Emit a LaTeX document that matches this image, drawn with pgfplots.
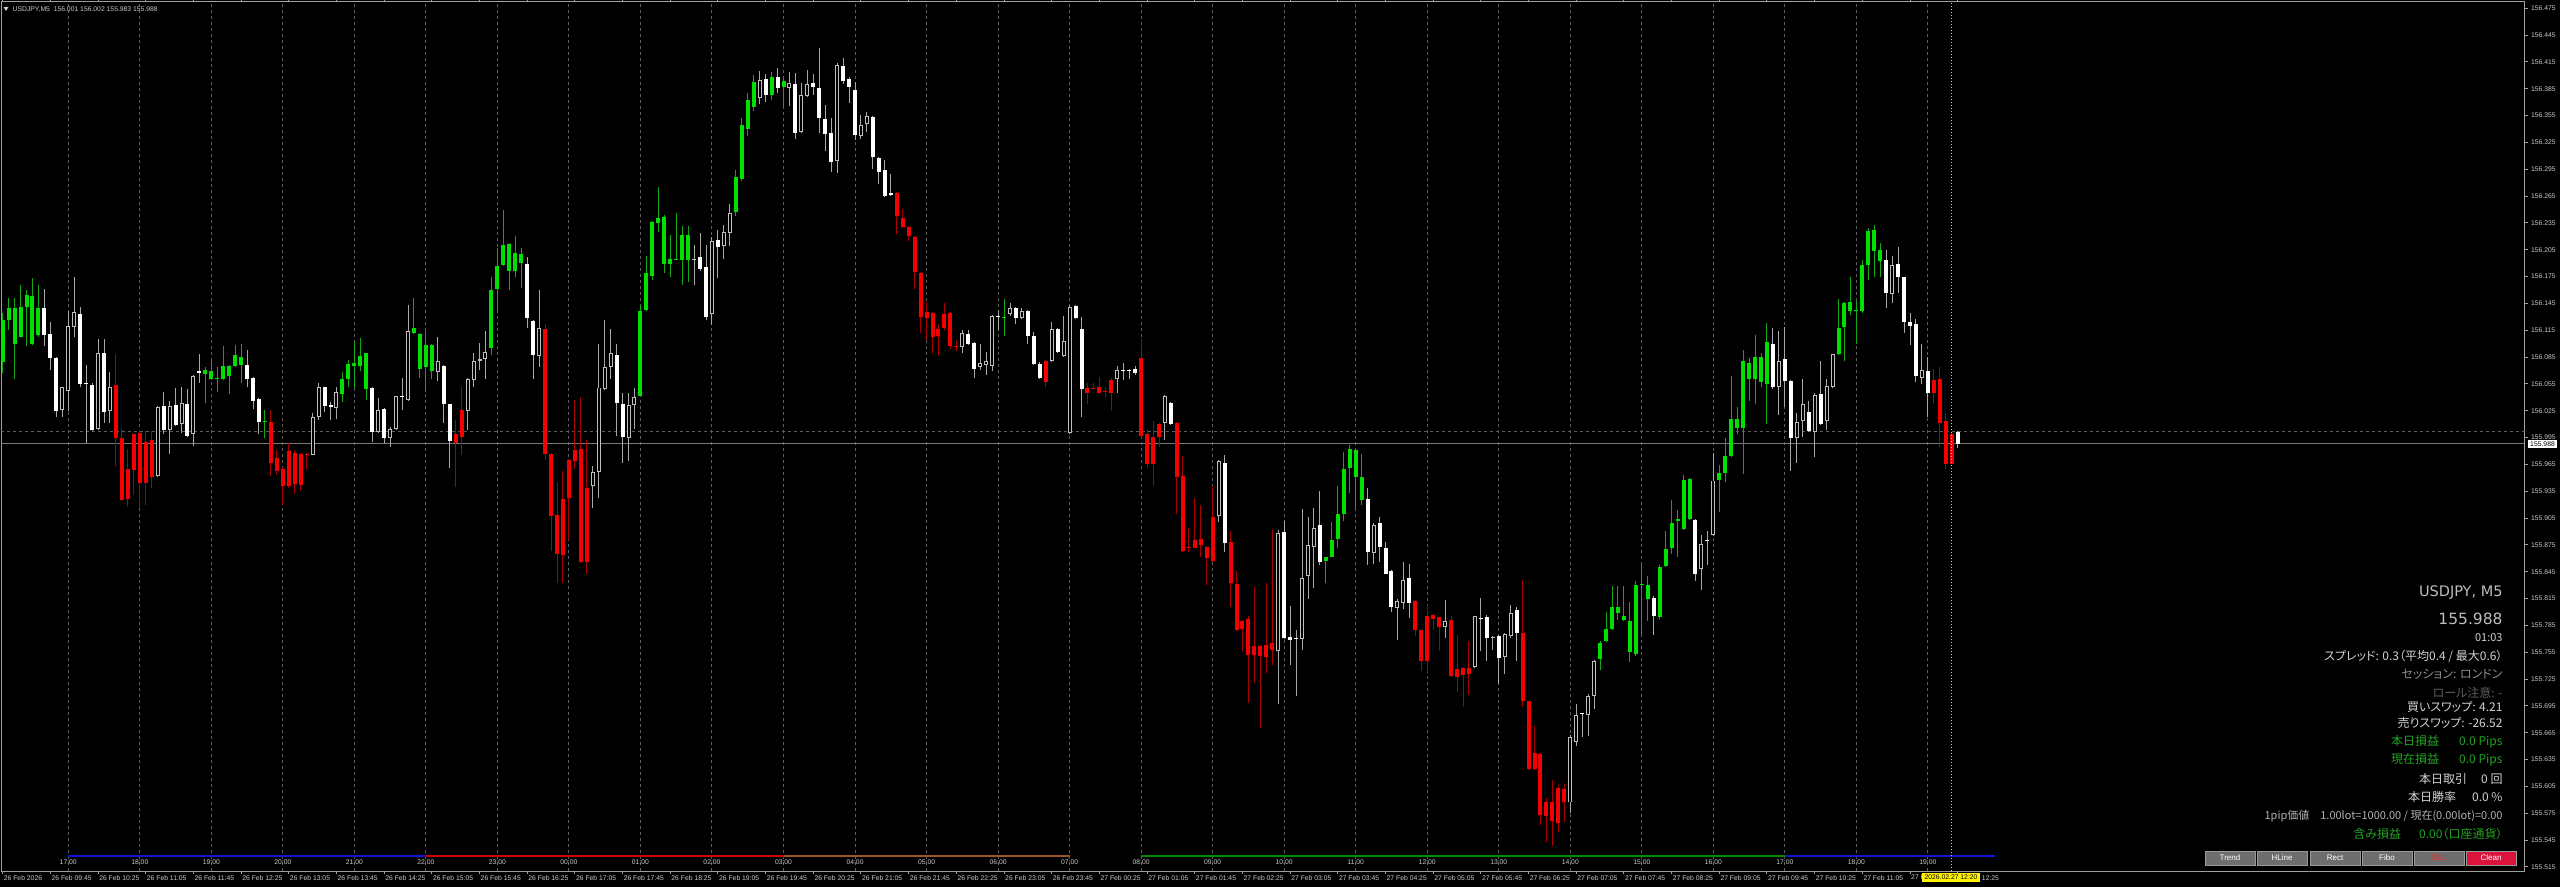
\documentclass[border=0pt]{standalone}
\usepackage{pgfplots}
\usepackage{pgfplotstable}
\pgfplotsset{compat=1.18}
\usepackage{fontspec}
\setmainfont{Liberation Sans}
\newfontfamily\jp[RawFeature=+palt]{Noto Sans CJK JP}
\newfontfamily\dv{DejaVu Sans}

\definecolor{gridc}{HTML}{5C5C5C}
\definecolor{axisc}{HTML}{A0A0A0}
\definecolor{tickc}{HTML}{CACACA}
\definecolor{bullg}{HTML}{00E000}
\definecolor{wickg}{HTML}{14A814}
\definecolor{bearr}{HTML}{F40000}
\definecolor{wickr}{HTML}{A80000}
\definecolor{wickw}{HTML}{A8A8A8}
\definecolor{hollow}{HTML}{BEBEBE}
\definecolor{priceln}{HTML}{7A7A7A}
\definecolor{bandblue}{HTML}{1414D2}
\definecolor{bandred}{HTML}{C80000}
\definecolor{bandbrown}{HTML}{A0522D}
\definecolor{bandgreen}{HTML}{008C00}
\definecolor{btn}{HTML}{6E6E6E}
\definecolor{btnedge}{HTML}{9A9A9A}
\definecolor{crimson}{HTML}{DC143C}
\definecolor{delred}{HTML}{FF2A2A}
\definecolor{pgreen}{HTML}{22A322}
\definecolor{tlight}{HTML}{D2D2D2}
\definecolor{tbig}{HTML}{BDBDBD}
\definecolor{tmid}{HTML}{8E8E8E}
\definecolor{tdim}{HTML}{5E5E5E}

\newcommand\tf{\fontsize{6.8}{7}\selectfont}
\newcommand\pf{\jp\fontsize{12}{14}\selectfont}

% USDJPY M5, one row per bar: open high low close, k = colour class
% k: 1 green, 2 red, 3 white up (hollow), 4 white down (filled)
\pgfplotstableread{
o h l c k
156.080 156.134 156.067 156.126 1
156.126 156.151 156.115 156.140 1
156.100 156.151 156.061 156.140 1
156.108 156.166 156.107 156.141 1
156.141 156.160 156.097 156.154 1
156.100 156.173 156.099 156.153 1
156.110 156.166 156.108 156.140 1
156.140 156.161 156.097 156.110 4
156.111 156.124 156.071 156.084 4
156.084 156.085 156.018 156.025 4
156.026 156.052 156.018 156.051 3
156.047 156.136 156.025 156.120 3
156.119 156.175 156.108 156.135 3
156.133 156.141 156.052 156.055 4
156.055 156.076 155.989 156.054 4
156.054 156.056 156.002 156.003 4
156.005 156.105 156.004 156.090 3
156.090 156.105 156.011 156.024 4
156.025 156.068 156.011 156.052 3
156.054 156.088 155.963 155.995 2
155.994 156.006 155.924 155.925 2
155.960 155.982 155.917 155.926 2
155.999 156.000 155.931 155.959 2
156.000 156.003 155.916 155.944 2
155.990 156.002 155.920 155.944 2
155.992 156.002 155.939 155.951 2
155.952 156.030 155.951 156.029 3
156.030 156.046 155.999 156.004 4
156.004 156.036 155.977 156.030 3
156.031 156.050 156.008 156.009 4
156.010 156.051 156.000 156.034 3
156.032 156.049 155.996 155.997 4
155.999 156.065 155.986 156.064 3
156.069 156.089 156.056 156.067 4
156.066 156.074 156.034 156.070 1
156.061 156.082 156.059 156.069 1
156.060 156.074 156.046 156.061 1
156.060 156.097 156.059 156.075 1
156.064 156.076 156.044 156.075 1
156.075 156.098 156.074 156.087 1
156.076 156.100 156.056 156.085 1
156.076 156.093 156.051 156.060 4
156.062 156.063 156.027 156.036 4
156.038 156.039 155.999 156.012 4
156.012 156.026 155.994 156.013 1
156.012 156.026 155.952 155.967 2
155.972 155.981 155.953 155.958 2
155.960 155.962 155.920 155.941 2
155.980 155.989 155.939 155.941 2
155.978 155.981 155.932 155.943 2
155.977 155.978 155.935 155.942 2
155.977 155.978 155.960 155.976 2
155.976 156.022 155.975 156.018 3
156.018 156.056 156.015 156.051 3
156.051 156.052 156.024 156.030 4
156.031 156.035 156.015 156.029 4
156.028 156.051 156.016 156.046 3
156.044 156.068 156.035 156.061 1
156.061 156.082 156.051 156.077 1
156.075 156.102 156.050 156.078 1
156.075 156.106 156.069 156.086 1
156.049 156.090 156.037 156.089 1
156.050 156.051 155.990 156.001 4
156.001 156.039 156.000 156.026 3
156.027 156.028 155.989 155.995 4
155.995 156.007 155.984 156.005 3
156.005 156.042 156.004 156.041 3
156.040 156.062 156.026 156.039 4
156.037 156.143 156.036 156.114 3
156.112 156.151 156.111 156.117 1
156.072 156.112 156.062 156.111 1
156.074 156.114 156.046 156.099 1
156.069 156.100 156.061 156.098 1
156.068 156.107 156.058 156.081 3
156.075 156.076 156.011 156.032 4
156.032 156.033 155.961 155.991 4
155.999 156.015 155.940 155.989 2
156.026 156.052 155.976 155.996 2
156.025 156.062 156.004 156.061 3
156.059 156.090 156.051 156.081 3
156.081 156.101 156.070 156.083 3
156.083 156.114 156.060 156.091 3
156.095 156.175 156.087 156.160 1
156.161 156.207 156.136 156.187 1
156.188 156.250 156.187 156.210 1
156.181 156.212 156.160 156.211 1
156.181 156.220 156.174 156.201 1
156.190 156.207 156.162 156.200 1
156.189 156.197 156.117 156.129 4
156.125 156.126 156.061 156.087 4
156.086 156.160 156.074 156.117 3
156.116 156.122 155.970 155.977 2
155.977 155.978 155.868 155.907 2
155.908 155.945 155.832 155.865 2
155.926 155.958 155.832 155.864 2
155.970 155.971 155.881 155.927 2
155.981 156.037 155.960 155.969 2
155.982 156.040 155.855 155.856 2
155.939 155.992 155.843 155.856 2
155.941 155.963 155.916 155.957 3
155.956 156.100 155.927 156.051 3
156.049 156.126 156.048 156.074 3
156.074 156.116 156.060 156.089 3
156.087 156.100 155.997 156.034 4
156.033 156.045 155.967 155.996 4
155.995 156.045 155.969 156.031 3
156.031 156.050 156.005 156.040 3
156.042 156.143 156.041 156.137 1
156.138 156.198 156.137 156.179 1
156.176 156.237 156.171 156.236 1
156.235 156.275 156.225 156.240 1
156.189 156.244 156.179 156.242 1
156.189 156.222 156.175 156.195 1
156.194 156.246 156.193 156.195 1
156.194 156.231 156.166 156.222 1
156.194 156.231 156.169 156.221 1
156.193 156.210 156.166 156.195 3
156.197 156.224 156.181 156.184 4
156.186 156.210 156.126 156.130 4
156.133 156.219 156.121 156.215 3
156.216 156.227 156.173 156.208 4
156.209 156.233 156.195 156.225 3
156.224 156.256 156.209 156.246 3
156.247 156.294 156.243 156.286 1
156.284 156.352 156.282 156.345 1
156.340 156.380 156.332 156.372 1
156.365 156.400 156.360 156.392 1
156.375 156.405 156.368 156.395 3
156.396 156.402 156.370 156.378 4
156.378 156.404 156.372 156.398 1
156.398 156.408 156.380 156.386 4
156.387 156.399 156.365 156.394 1
156.386 156.404 156.366 156.391 3
156.390 156.403 156.329 156.335 4
156.337 156.391 156.336 156.378 3
156.377 156.406 156.376 156.390 3
156.391 156.402 156.378 156.387 4
156.386 156.431 156.335 156.352 4
156.351 156.367 156.315 156.334 4
156.335 156.352 156.292 156.303 4
156.304 156.414 156.291 156.411 3
156.410 156.419 156.390 156.394 4
156.396 156.398 156.369 156.387 4
156.384 156.392 156.328 156.333 4
156.332 156.356 156.329 156.345 3
156.346 156.359 156.337 156.355 3
156.353 156.354 156.295 156.309 4
156.308 156.309 156.279 156.292 4
156.294 156.305 156.264 156.265 4
156.268 156.290 156.265 156.266 4
156.269 156.270 156.223 156.243 2
156.241 156.251 156.229 156.230 2
156.230 156.231 156.215 156.220 2
156.219 156.220 156.161 156.180 2
156.179 156.180 156.112 156.130 2
156.135 156.147 156.104 156.129 2
156.134 156.135 156.090 156.107 2
156.116 156.122 156.086 156.109 2
156.133 156.146 156.115 156.118 2
156.134 156.135 156.094 156.097 2
156.097 156.104 156.092 156.096 2
156.096 156.115 156.089 156.112 3
156.111 156.115 156.099 156.100 4
156.101 156.102 156.062 156.072 4
156.074 156.100 156.071 156.078 3
156.076 156.091 156.065 156.081 3
156.075 156.132 156.069 156.131 3
156.130 156.138 156.115 156.129 4
156.129 156.150 156.109 156.130 1
156.133 156.146 156.131 156.140 3
156.140 156.141 156.122 156.129 4
156.129 156.140 156.128 156.136 3
156.137 156.138 156.100 156.109 4
156.109 156.113 156.076 156.077 4
156.077 156.080 156.061 156.062 4
156.081 156.082 156.052 156.057 2
156.081 156.124 156.080 156.116 3
156.116 156.117 156.089 156.091 4
156.086 156.131 156.085 156.103 3
156.000 156.143 155.999 156.141 3
156.142 156.143 156.128 156.129 4
156.116 156.130 156.018 156.049 4
156.050 156.056 156.032 156.045 2
156.050 156.056 156.049 156.049 2
156.051 156.063 156.044 156.045 2
156.047 156.052 156.040 156.046 2
156.059 156.062 156.025 156.045 2
156.060 156.075 156.045 156.071 3
156.071 156.078 156.059 156.070 4
156.071 156.072 156.061 156.070 4
156.072 156.075 156.065 156.067 4
156.084 156.105 155.996 155.997 2
155.999 156.004 155.961 155.966 2
155.996 156.013 155.941 155.966 2
156.010 156.011 155.985 155.996 2
156.011 156.043 155.992 156.042 3
156.034 156.035 156.009 156.010 4
156.011 156.012 155.910 155.951 2
155.952 155.974 155.867 155.868 2
155.872 155.894 155.867 155.871 2
155.880 155.927 155.871 155.872 2
155.882 155.920 155.862 155.875 2
155.873 155.874 155.830 155.860 2
155.906 155.941 155.856 155.857 2
155.907 155.970 155.901 155.969 3
155.967 155.976 155.867 155.877 4
155.878 155.891 155.806 155.832 2
155.831 155.846 155.779 155.780 2
155.790 155.791 155.756 155.781 2
155.792 155.796 155.698 155.752 2
155.762 155.828 155.721 155.752 2
155.762 155.763 155.670 155.751 2
155.763 155.832 155.732 155.750 2
155.765 155.892 155.741 155.757 2
155.756 155.892 155.697 155.888 3
155.890 155.902 155.770 155.771 4
155.772 155.807 155.741 155.769 4
155.771 155.780 155.706 155.770 4
155.770 155.915 155.758 155.838 3
155.840 155.906 155.815 155.875 3
155.873 155.916 155.827 155.894 3
155.897 155.935 155.852 155.856 4
155.857 155.861 155.832 155.861 1
155.862 155.901 155.861 155.881 1
155.882 155.941 155.872 155.910 1
155.910 155.979 155.902 155.960 1
155.961 155.987 155.933 155.982 1
155.951 155.982 155.916 155.981 1
155.925 155.977 155.920 155.951 1
155.926 155.939 155.853 155.867 4
155.866 155.900 155.854 155.897 3
155.899 155.906 155.856 155.873 4
155.871 155.878 155.842 155.843 4
155.846 155.847 155.800 155.806 4
155.805 155.814 155.769 155.812 3
155.810 155.856 155.803 155.836 3
155.838 155.854 155.793 155.810 4
155.812 155.813 155.773 155.780 2
155.780 155.781 155.734 155.745 2
155.796 155.808 155.731 155.745 2
155.797 155.798 155.780 155.792 2
155.794 155.794 155.756 155.783 2
155.783 155.813 155.771 155.790 3
155.791 155.796 155.727 155.728 2
155.736 155.774 155.710 155.727 2
155.737 155.738 155.694 155.730 2
155.737 155.768 155.707 155.731 2
155.738 155.796 155.737 155.795 3
155.793 155.816 155.756 155.792 4
155.794 155.797 155.745 155.771 4
155.771 155.773 155.758 155.772 3
155.773 155.774 155.720 155.748 4
155.750 155.777 155.731 155.775 3
155.773 155.808 155.771 155.799 3
155.802 155.806 155.745 155.777 4
155.776 155.836 155.694 155.701 2
155.700 155.701 155.623 155.625 2
155.642 155.672 155.623 155.624 2
155.641 155.642 155.562 155.573 2
155.588 155.592 155.543 155.572 2
155.588 155.612 155.538 155.566 2
155.603 155.607 155.554 155.564 2
155.602 155.608 155.565 155.588 2
155.587 155.662 155.575 155.660 3
155.655 155.697 155.650 155.685 3
155.686 155.686 155.660 155.685 4
155.685 155.708 155.661 155.706 3
155.706 155.746 155.692 155.745 3
155.747 155.768 155.735 155.765 1
155.767 155.800 155.766 155.781 1
155.781 155.829 155.780 155.806 1
155.799 155.829 155.791 155.806 1
155.791 155.829 155.790 155.795 1
155.755 155.811 155.744 155.790 1
155.753 155.835 155.751 155.830 1
155.830 155.855 155.775 155.831 1
155.815 155.840 155.790 155.830 1
155.816 155.818 155.774 155.795 4
155.794 155.852 155.792 155.850 1
155.851 155.890 155.850 155.870 1
155.871 155.925 155.865 155.900 1
155.902 155.914 155.862 155.904 1
155.893 155.953 155.892 155.948 1
155.904 155.950 155.903 155.949 1
155.903 155.904 155.835 155.842 4
155.848 155.886 155.825 155.876 3
155.880 155.890 155.852 155.879 4
155.886 155.978 155.885 155.947 3
155.948 155.964 155.912 155.955 1
155.955 155.994 155.945 155.974 1
155.974 156.064 155.973 156.016 1
156.006 156.029 155.999 156.016 1
156.006 156.093 155.954 156.081 1
156.061 156.084 156.036 156.078 1
156.061 156.110 156.033 156.085 1
156.057 156.090 156.052 156.085 1
156.055 156.123 156.010 156.102 1
156.100 156.117 156.049 156.051 4
156.052 156.114 156.020 156.081 3
156.083 156.119 156.029 156.058 4
156.058 156.059 155.958 155.994 4
155.994 156.023 155.967 156.012 3
156.013 156.060 155.996 156.033 3
156.024 156.036 156.001 156.002 4
156.001 156.045 155.973 156.043 3
156.044 156.081 156.009 156.010 4
156.013 156.061 156.004 156.053 3
156.052 156.089 156.050 156.088 3
156.088 156.150 156.087 156.118 1
156.119 156.147 156.081 156.146 1
156.137 156.174 156.132 156.147 1
156.137 156.148 156.100 156.138 1
156.137 156.193 156.134 156.188 1
156.188 156.229 156.171 156.226 1
156.204 156.233 156.174 156.227 1
156.192 156.213 156.174 156.205 1
156.193 156.205 156.140 156.157 4
156.155 156.198 156.145 156.188 3
156.189 156.208 156.157 156.174 4
156.174 156.175 156.112 156.124 4
156.124 156.134 156.099 156.120 4
156.122 156.128 156.057 156.064 4
156.062 156.100 156.055 156.070 3
156.069 156.085 156.018 156.045 4
156.059 156.072 156.033 156.045 2
156.060 156.074 155.984 156.011 2
156.014 156.023 155.960 155.966 2
155.999 156.001 155.965 155.966 2
156.001 156.002 155.983 155.988 4
}\candles

\begin{document}
\begin{tikzpicture}[x=1pt,y=1pt]
\fill[black] (0,0) rectangle (2560,887);
\begin{axis}[
  at={(1.5pt,16pt)}, anchor=south west,
  scale only axis, width=2523pt, height=869pt,
  xmin=-0.2, xmax=423.1, ymin=155.5104, ymax=156.482,
  axis line style={draw=axisc, line width=1pt},
  tick align=outside, major tick length=3pt,
  xtick={11,23,...,323},
  xticklabels={17:00,18:00,19:00,20:00,21:00,22:00,23:00,00:00,01:00,02:00,03:00,04:00,05:00,06:00,07:00,08:00,09:00,10:00,11:00,12:00,13:00,14:00,15:00,16:00,17:00,18:00,19:00},
  xtick style={draw=none},
  xticklabel style={anchor=base, yshift=9.5pt, font=\tf, text=tickc},
  xmajorgrids,
  major x grid style={gridc, line width=1pt, dash pattern=on 3pt off 3pt},
  extra x ticks={0,8,...,328},
  extra x tick labels={26 Feb 2026,26 Feb 09:45,26 Feb 10:25,26 Feb 11:05,26 Feb 11:45,26 Feb 12:25,26 Feb 13:05,26 Feb 13:45,26 Feb 14:25,26 Feb 15:05,26 Feb 15:45,26 Feb 16:25,26 Feb 17:05,26 Feb 17:45,26 Feb 18:25,26 Feb 19:05,26 Feb 19:45,26 Feb 20:25,26 Feb 21:05,26 Feb 21:45,26 Feb 22:25,26 Feb 23:05,26 Feb 23:45,27 Feb 00:25,27 Feb 01:05,27 Feb 01:45,27 Feb 02:25,27 Feb 03:05,27 Feb 03:45,27 Feb 04:25,27 Feb 05:05,27 Feb 05:45,27 Feb 06:25,27 Feb 07:05,27 Feb 07:45,27 Feb 08:25,27 Feb 09:05,27 Feb 09:45,27 Feb 10:25,27 Feb 11:05,27 F,\phantom{27 Feb }12:25},
  extra x tick style={grid=none,
    xtick style={draw=axisc, line width=1pt},
    every x tick label/.style={anchor=north west, inner sep=1pt, font=\tf, text=tickc}},
  ytick={155.515,155.545,155.575,155.605,155.635,155.665,155.695,155.725,155.755,155.785,155.815,155.845,155.875,155.905,155.935,155.965,155.995,156.025,156.055,156.085,156.115,156.145,156.175,156.205,156.235,156.265,156.295,156.325,156.355,156.385,156.415,156.445,156.475},
  ytick pos=right, yticklabel pos=right,
  ytick style={draw=axisc, line width=1pt},
  scaled y ticks=false,
  yticklabel style={font=\tf, text=tickc, anchor=west,
    /pgf/number format/.cd, fixed, fixed zerofill, precision=3, 1000 sep={}, assume math mode=true},
]
% price lines
\addplot[priceln, line width=1pt, forget plot] coordinates {(-0.2,155.988) (423.1,155.988)};
\addplot[gridc, line width=1pt, dash pattern=on 3pt off 3pt, forget plot] coordinates {(-0.2,156.002) (423.1,156.002)};
% session band
\addplot[bandblue, line width=2pt, forget plot] coordinates {(11,155.527) (71,155.527)};
\addplot[bandred, line width=2pt, forget plot] coordinates {(71,155.527) (131,155.527)};
\addplot[bandbrown, line width=2pt, forget plot] coordinates {(131,155.527) (179,155.527)};
\addplot[bandgreen, line width=2pt, forget plot] coordinates {(191,155.527) (299,155.527)};
\addplot[bandblue, line width=2pt, forget plot] coordinates {(299,155.527) (334.3,155.527)};

% wicks
\addplot[forget plot, draw=none, mark=none,
  error bars/.cd, y dir=plus, y explicit, error mark=none,
  error bar style={draw=wickg, line width=1pt}]
  table[x expr=\coordindex, y expr={\thisrow{k}==1 ? \thisrow{l} : nan},
        y error plus expr={\thisrow{h}-\thisrow{l}}] {\candles};
\addplot[forget plot, draw=none, mark=none,
  error bars/.cd, y dir=plus, y explicit, error mark=none,
  error bar style={draw=wickr, line width=1pt}]
  table[x expr=\coordindex, y expr={\thisrow{k}==2 ? \thisrow{l} : nan},
        y error plus expr={\thisrow{h}-\thisrow{l}}] {\candles};
\addplot[forget plot, draw=none, mark=none,
  error bars/.cd, y dir=plus, y explicit, error mark=none,
  error bar style={draw=wickw, line width=1pt}]
  table[x expr=\coordindex, y expr={\thisrow{k}>2 ? \thisrow{l} : nan},
        y error plus expr={\thisrow{h}-\thisrow{l}}] {\candles};

% bodies
\addplot[forget plot, draw=none, mark=none,
  error bars/.cd, y dir=plus, y explicit, error mark=none,
  error bar style={draw=bullg, line width=4pt}]
  table[x expr=\coordindex, y expr={\thisrow{k}==1 ? min(\thisrow{o},\thisrow{c}) : nan},
        y error plus expr={max(abs(\thisrow{o}-\thisrow{c}),0.0011)}] {\candles};
\addplot[forget plot, draw=none, mark=none,
  error bars/.cd, y dir=plus, y explicit, error mark=none,
  error bar style={draw=bearr, line width=4pt}]
  table[x expr=\coordindex, y expr={\thisrow{k}==2 ? min(\thisrow{o},\thisrow{c}) : nan},
        y error plus expr={max(abs(\thisrow{o}-\thisrow{c}),0.0011)}] {\candles};
\addplot[forget plot, draw=none, mark=none,
  error bars/.cd, y dir=plus, y explicit, error mark=none,
  error bar style={draw=white, line width=4pt}]
  table[x expr=\coordindex, y expr={\thisrow{k}==4 ? min(\thisrow{o},\thisrow{c}) : nan},
        y error plus expr={max(abs(\thisrow{o}-\thisrow{c}),0.0011)}] {\candles};
\addplot[forget plot, draw=none, mark=none,
  error bars/.cd, y dir=plus, y explicit, error mark=none,
  error bar style={draw=hollow, line width=4pt}]
  table[x expr=\coordindex, y expr={\thisrow{k}==3 ? min(\thisrow{o},\thisrow{c}) : nan},
        y error plus expr={max(abs(\thisrow{o}-\thisrow{c}),0.0011)}] {\candles};
\addplot[forget plot, draw=none, mark=none,
  error bars/.cd, y dir=plus, y explicit, error mark=none,
  error bar style={draw=black, line width=2pt}]
  table[x expr=\coordindex, y expr={\thisrow{k}==3 ? min(\thisrow{o},\thisrow{c})+0.0011 : nan},
        y error plus expr={max(abs(\thisrow{o}-\thisrow{c})-0.0022,0)}] {\candles};

% crosshair
\addplot[yellow!90!black, line width=1pt, dash pattern=on 1pt off 2pt, forget plot]
  coordinates {(327,155.5104) (327,156.482)};
\end{axis}

% header
\fill[tickc] (3.5,880) -- (8.5,880) -- (6,876) -- cycle;
\node[anchor=west, inner sep=0pt, font=\tf, text=tickc] at (12.5,877.5)
  {USDJPY,M5\ \ 156.001 156.002 155.983 155.988};

% bid box and time box
\fill[white] (2528,439) rectangle (2557,446.5);
\node[font=\tf, text=black, inner sep=0pt] at (2542.5,442.7) {155.988};
\fill[yellow] (1922,5) rectangle (1980,14);
\node[font=\tf, text=black, inner sep=0pt] at (1951,9.5) {2026.02.27 12:20};

% info panel
\begin{scope}[every node/.style={anchor=east, inner sep=0pt}]
\node[text=tbig, font=\dv\fontsize{14.5}{16}\selectfont] at (2502.7,294.3) {USDJPY, M5};
\node[text=tbig, font=\dv\fontsize{15.5}{17}\selectfont] at (2502.7,268) {155.988};
\node[text=tlight, font=\jp\fontsize{11}{13}\selectfont] at (2502.7,249) {01:03};
\node[text=tlight, font=\pf] at (2502.7,230.3) {スプレッド: 0.3（平均0.4 / 最大0.6）};
\node[text=tmid, font=\pf] at (2502.7,212.7) {セッション: ロンドン};
\node[text=tdim, font=\pf] at (2502.7,193.7) {ロール注意: -};
\node[text=tlight, font=\pf] at (2502.7,179.7) {買いスワップ: 4.21};
\node[text=tlight, font=\pf] at (2502.7,164.3) {売りスワップ: -26.52};
\node[text=pgreen, font=\pf] at (2502.7,145.3) {本日損益\hspace{20pt}0.0 Pips};
\node[text=pgreen, font=\pf] at (2502.7,127) {現在損益\hspace{20pt}0.0 Pips};
\node[text=tlight, font=\pf] at (2502.7,108.3) {本日取引\hspace{14pt}0 回};
\node[text=tlight, font=\pf] at (2502.7,89.7) {本日勝率\hspace{16pt}0.0 \%};
\node[text=tlight!85!black, font=\jp\fontsize{11}{13}\selectfont] at (2502.7,71) {1pip価値\hspace{11pt}1.00lot=1000.00 / 現在(0.00lot)=0.00};
\node[text=pgreen, font=\pf] at (2502.7,52.7) {含み損益\hspace{18pt}0.00（口座通貨）};
\end{scope}

% buttons
\foreach \xa/\lbl/\fc/\tc in {2205/Trend/btn/white, 2257/HLine/btn/white, 2310/Rect/btn/white, 2362/Fibo/btn/white, 2414/DEL/btn/delred, 2466/Clean/crimson/white} {
  \filldraw[fill=\fc, draw=btnedge, line width=0.8pt] (\xa,22) rectangle ++(50,14);
  \node[text=\tc, font=\fontsize{8}{9}\selectfont, inner sep=0pt] at (\xa+25,29) {\lbl};
}
\pgfresetboundingbox
\path[use as bounding box] (0,0) rectangle (2560,887);
\end{tikzpicture}
\end{document}
